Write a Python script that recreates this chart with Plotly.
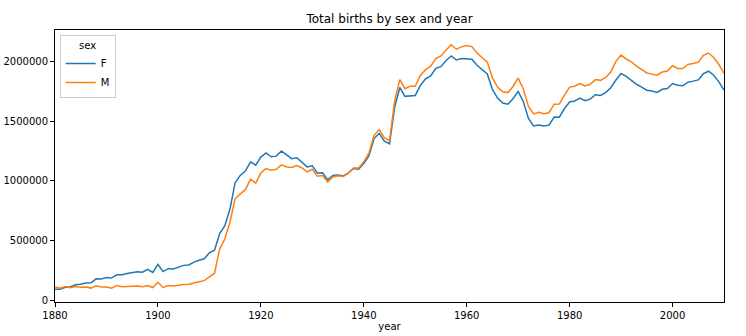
import plotly.graph_objects as go

years = list(range(1880, 2011))

births_f = [
    90993, 91955, 107851, 112322, 129021, 133056, 144538, 145983, 178631, 178369,
    190377, 185486, 212350, 212908, 222923, 233632, 237924, 234199, 258771, 233022,
    299873, 239351, 264079, 261976, 275375, 291641, 295301, 318558, 334277, 347191,
    396416, 418180, 557939, 624317, 761376, 983824, 1044249, 1081194, 1157585, 1130149,
    1198214, 1232845, 1200796, 1206239, 1248821, 1217217, 1185078, 1192207, 1152836, 1116284,
    1125521, 1064233, 1066930, 1007523, 1044249, 1048395, 1040081, 1063880, 1103140, 1096348,
    1143386, 1207952, 1352851, 1397022, 1331842, 1309603, 1615180, 1781109, 1706418, 1713265,
    1714017, 1798495, 1852201, 1876868, 1940940, 1955216, 2007408, 2044176, 2010815, 2023044,
    2022091, 2017316, 1966441, 1927145, 1894591, 1765353, 1691770, 1650564, 1640093, 1686778,
    1748160, 1662423, 1522286, 1458307, 1467307, 1457703, 1465810, 1532837, 1531604, 1604493,
    1659924, 1667639, 1691753, 1670000, 1683281, 1719981, 1714232, 1737522, 1779225, 1843463,
    1897256, 1874110, 1842818, 1807795, 1784440, 1757927, 1751651, 1739331, 1765381, 1772139,
    1813960, 1799049, 1795206, 1825359, 1834008, 1844061, 1896468, 1916888, 1883645, 1827643,
    1759010,
]

births_m = [
    110493, 100748, 113687, 104632, 114445, 107802, 110785, 101412, 120857, 110590,
    111025, 101196, 122037, 112317, 115772, 117398, 119575, 112760, 122703, 106218,
    150554, 106478, 122660, 119240, 128129, 132319, 133159, 146838, 154339, 163983,
    194198, 225936, 429926, 512482, 654746, 848647, 890142, 925512, 1013720, 980215,
    1064468, 1101374, 1088380, 1096227, 1132671, 1115798, 1110440, 1126259, 1107113, 1074833,
    1096663, 1038586, 1043498, 990677, 1031962, 1040892, 1036452, 1066108, 1106259, 1106409,
    1158845, 1231053, 1380553, 1428092, 1361005, 1336053, 1667188, 1846004, 1770512, 1792061,
    1790678, 1880900, 1929928, 1959890, 2022651, 2044245, 2094084, 2138296, 2101006, 2121010,
    2131975, 2122891, 2068826, 2031264, 1993075, 1861591, 1783978, 1744296, 1738118, 1789474,
    1858914, 1767856, 1622966, 1559038, 1572426, 1561954, 1569296, 1640806, 1641864, 1716962,
    1784052, 1791048, 1813970, 1793080, 1808013, 1847045, 1840447, 1864946, 1910826, 1999828,
    2052070, 2019137, 1995870, 1959338, 1930221, 1902111, 1892711, 1883444, 1909969, 1918281,
    1962556, 1940498, 1939097, 1973050, 1981557, 1993285, 2050234, 2069242, 2032310, 1973359,
    1898382,
]

x_ticks = [1880, 1900, 1920, 1940, 1960, 1980, 2000]
y_ticks = [0, 500000, 1000000, 1500000, 2000000]

fig = go.Figure()
fig.add_trace(go.Scatter(x=years, y=births_f, mode="lines", name="F",
                         line=dict(color="#1f77b4", width=1.5)))
fig.add_trace(go.Scatter(x=years, y=births_m, mode="lines", name="M",
                         line=dict(color="#ff7f0e", width=1.5)))

font_family = "DejaVu Sans"
axis_common = dict(
    showline=True, linecolor="black", linewidth=1, mirror=True,
    showgrid=False, zeroline=False, automargin=False,
    ticks="outside", ticklen=4, tickwidth=1, tickcolor="black",
    tickfont=dict(family=font_family, size=10, color="black"),
)

fig.update_layout(
    width=746, height=336,
    margin=dict(l=55, r=22, t=30, b=34),
    paper_bgcolor="white", plot_bgcolor="white",
    title=dict(text="Total births by sex and year", x=0.5, xref="paper",
               y=1 - 19 / 336, yanchor="middle",
               font=dict(family=font_family, size=12, color="black")),
    xaxis=dict(range=[1880, 2010], tickvals=x_ticks,
               title=dict(text="year", standoff=2,
                          font=dict(family=font_family, size=10, color="black")),
               **axis_common),
    yaxis=dict(range=[-15000, 2262000], tickvals=y_ticks,
               tickformat="d", **axis_common),
    legend=dict(
        x=0.007, y=0.982, xanchor="left", yanchor="top",
        bgcolor="rgba(255,255,255,0.8)", bordercolor="#cccccc", borderwidth=1,
        font=dict(family=font_family, size=10, color="black"),
        title=dict(text="sex", side="top center",
                   font=dict(family=font_family, size=10, color="black")),
        tracegroupgap=0, itemwidth=30,
    ),
    showlegend=True,
)

fig.write_html("out.html")
